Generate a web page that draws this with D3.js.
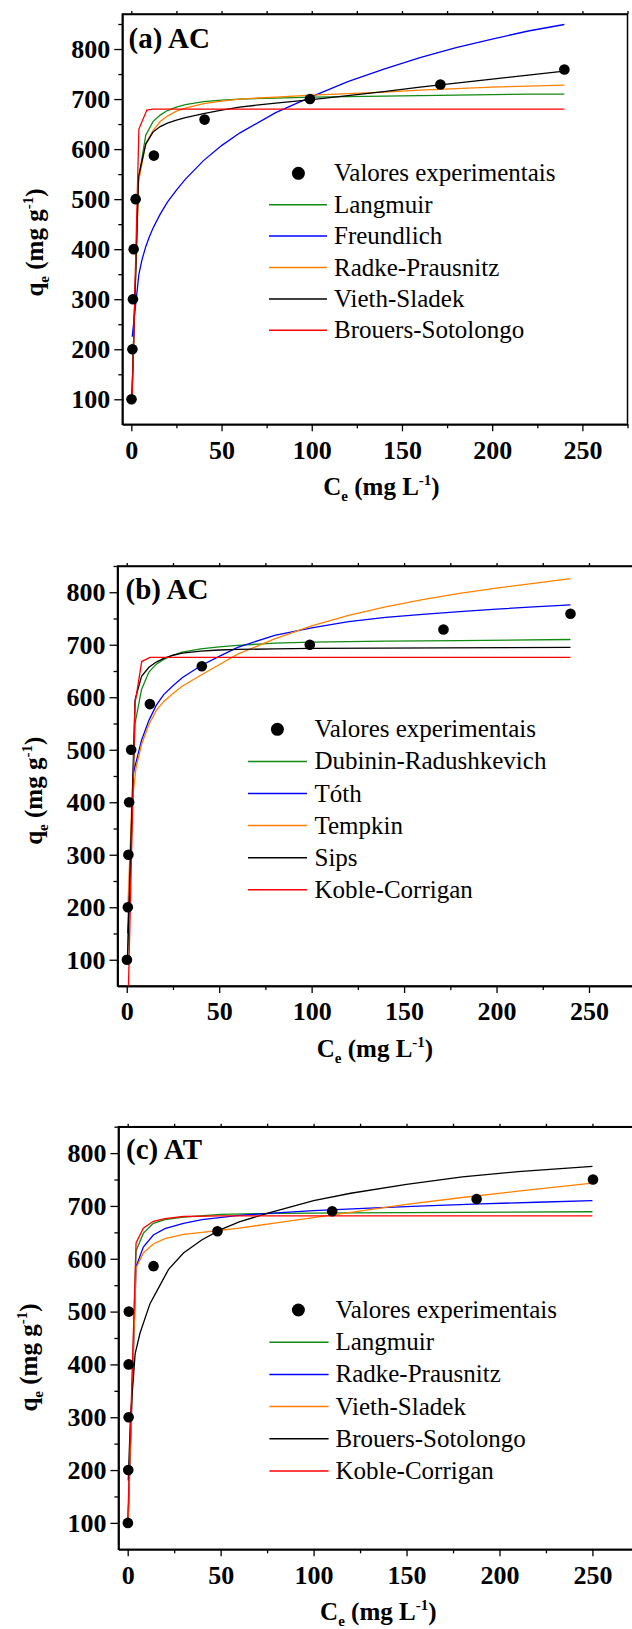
<!DOCTYPE html>
<html>
<head>
<meta charset="utf-8">
<title>Isotermas de adsorção</title>
<script src="https://d3js.org/d3.v7.min.js"></script>
<style>
  body { margin: 0; background: #fff; }
  svg { display: block; }
</style>
</head>
<body>
<svg id="chart" width="632" height="1629"></svg>
<script>
// ---- dados ----
var xTicks = [0, 50, 100, 150, 200, 250];
var xMinor = [25, 75, 125, 175, 225, 275];
var yTicks = [100, 200, 300, 400, 500, 600, 700, 800];
var yMinor = [150, 250, 350, 450, 550, 650, 750, 850];

// pontos experimentais
var expAC_Ce = [0.1, 0.6, 0.9, 1.3, 2.4, 12.5, 40.6, 99, 171.3, 240];
var expAC_qe = [100, 200, 300, 400, 500, 587, 659, 700, 729, 759];
var expAT_Ce = [0.1, 0.3, 0.5, 0.5, 0.6, 13.9, 48.3, 110, 187.7, 250.3];
var expAT_qe = [100, 200, 300, 400, 500, 586, 652, 690, 713, 750];

// (a) AC
var langmuirA = [[0.3,100],[4,540],[8,628],[12,655],[16,668],[20,677],[25,684],[30,689],[40,695],[50,698],[60,700],[80,702],[100,704],[120,705],[140,706],[160,707],[180,708],[200,709],[220,710],[240,710]];
var freundlichA = [[0.5,225],[4.2,350],[6,380],[8,405],[10,425],[12,442],[16,470],[20,494],[25,518],[30,540],[40,577],[50,607],[60,632],[80,673],[100,705],[120,735],[140,760],[160,783],[180,803],[200,820],[220,836],[240,849]];
var radkeA = [[0.3,100],[4,535],[8,611],[12,637],[16,655],[20,666],[25,676],[30,682],[40,691],[50,696],[60,700],[80,704],[100,708],[120,711],[140,714],[160,718],[180,721],[200,724],[220,726],[240,728]];
var viethA = [[0.3,100],[4,545],[8,610],[12,634],[16,645],[20,652],[25,658],[30,663],[40,671],[50,678],[60,684],[80,692],[100,699],[120,707],[140,715],[160,724],[180,732],[200,740],[220,748],[240,756]];
var brouersA = [[0.5,105],[4.2,640],[8.6,678],[12,680],[240,680]];

// (b) AC
var dubininB = [[0.4,100],[4.5,550],[8,615],[12,648],[16,663],[20,672],[25,680],[30,686],[40,692],[50,696],[60,699],[80,703],[100,705],[140,707],[180,708],[240,710]];
var tothB = [[0.5,150],[3.6,456],[8,518],[12,556],[16,585],[20,605],[25,622],[30,637],[40,660],[50,678],[60,695],[80,718],[100,732],[120,744],[140,752],[160,758],[180,763],[200,768],[220,772],[240,776]];
var tempkinB = [[0.6,200],[2.7,393],[5,465],[8,510],[12,548],[16,575],[20,592],[25,607],[30,621],[40,642],[50,662],[60,682],[80,711],[100,736],[120,756],[140,772],[160,786],[180,798],[200,808],[220,817],[240,826]];
var sipsB = [[0.4,100],[4.5,595],[8,640],[12,657],[16,667],[20,674],[25,680],[30,684],[40,688],[50,690],[60,691],[80,692],[100,693],[240,695]];
var kobleB = [[0.6,0],[4.5,589],[8.1,668],[12.6,676],[240,676]];

// (c) AT
var langmuirC = [[0.2,100],[4.5,615],[8.4,648],[13.8,667],[20,674],[30,679],[50,684],[80,686],[120,687],[180,688],[250,689]];
var radkeC = [[0.2,100],[4.5,585],[8.4,622],[13.8,645],[20,657],[30,667],[40,674],[60,682],[80,687],[100,691],[130,696],[160,700],[190,704],[220,707],[250,710]];
var viethC = [[0.2,100],[4.5,582],[8.4,611],[13.8,628],[20,638],[30,646],[40,650],[50,654],[60,658],[80,668],[100,678],[120,688],[150,703],[180,716],[210,728],[250,743]];
var brouersC = [[0.3,180],[1.5,300],[4,420],[6.6,459],[12,515],[17.4,550],[22,580],[30,611],[40,636],[50,655],[60,670],[75,686],[100,710],[120,724],[150,741],[180,755],[210,765],[250,775]];
var kobleC = [[0,100],[4.5,630],[8.4,658],[13.8,671],[20,676],[30,680],[50,681],[250,681]];

var VERDE = "#108a10", AZUL = "#0000ff", LARANJA = "#ff8000", PRETO = "#000000", VERMELHO = "#ff0000";
var FONTE = "'Liberation Serif', 'Times New Roman', serif";

var panels = [
  { title: "(a) AC", box: {l:122.3, r:627.5, t:14, b:424.3}, yDom: [50, 870],
    ce: expAC_Ce, qe: expAC_qe,
    curves: [
      {name: "Langmuir", color: VERDE, data: langmuirA},
      {name: "Freundlich", color: AZUL, data: freundlichA},
      {name: "Radke-Prausnitz", color: LARANJA, data: radkeA},
      {name: "Vieth-Sladek", color: PRETO, data: viethA},
      {name: "Brouers-Sotolongo", color: VERMELHO, data: brouersA}],
    leg: {mx:298.4, my:173.3, tx:334, l0:269, l1:327, dy:31.4},
    tpos: [128.5, 48.3], ylab: [43.3, 242.5], xlab: [381.5, 495] },
  { title: "(b) AC", box: {l:117.5, r:635.2, t:566, b:986}, yDom: [50, 850],
    ce: expAC_Ce, qe: expAC_qe,
    curves: [
      {name: "Dubinin-Radushkevich", color: VERDE, data: dubininB},
      {name: "Tóth", color: AZUL, data: tothB},
      {name: "Tempkin", color: LARANJA, data: tempkinB},
      {name: "Sips", color: PRETO, data: sipsB},
      {name: "Koble-Corrigan", color: VERMELHO, data: kobleB}],
    leg: {mx:277.4, my:729.3, tx:314.5, l0:248, l1:307, dy:32.1},
    tpos: [125.5, 599.3], ylab: [41.7, 790.8], xlab: [375, 1057] },
  { title: "(c) AT", box: {l:118.4, r:638.9, t:1126.7, b:1549.3}, yDom: [50, 850],
    ce: expAT_Ce, qe: expAT_qe,
    curves: [
      {name: "Langmuir", color: VERDE, data: langmuirC},
      {name: "Radke-Prausnitz", color: AZUL, data: radkeC},
      {name: "Vieth-Sladek", color: LARANJA, data: viethC},
      {name: "Brouers-Sotolongo", color: PRETO, data: brouersC},
      {name: "Koble-Corrigan", color: VERMELHO, data: kobleC}],
    leg: {mx:298.4, my:1310, tx:335.5, l0:269.4, l1:328.6, dy:32.2},
    tpos: [126, 1159.3], ylab: [36.7, 1357.5], xlab: [378.3, 1620] }
];

var svg = d3.select("#chart").style("font-family", FONTE);

panels.forEach(function (p, i) {
  var b = p.box;
  var x = d3.scaleLinear().domain([-5, 275]).range([b.l, b.r]);
  var y = d3.scaleLinear().domain(p.yDom).range([b.b, b.t]);
  var g = svg.append("g");

  var clipId = "clip" + i;
  g.append("clipPath").attr("id", clipId)
    .append("rect").attr("x", b.l).attr("y", b.t).attr("width", b.r - b.l).attr("height", b.b - b.t);

  // moldura
  g.append("rect").attr("x", b.l).attr("y", b.t).attr("width", b.r - b.l).attr("height", b.b - b.t)
    .attr("fill", "none").attr("stroke", "#000").attr("stroke-width", 1.5);

  // eixos
  var ax = g.append("g").attr("transform", "translate(0," + b.b + ")")
    .call(d3.axisBottom(x).tickValues(xTicks).tickSize(7).tickPadding(9).tickSizeOuter(0));
  g.append("g").attr("transform", "translate(0," + b.b + ")")
    .call(d3.axisBottom(x).tickValues(xMinor).tickSize(4).tickFormat("").tickSizeOuter(0));
  g.append("g").attr("transform", "translate(0," + b.t + ")")
    .call(d3.axisTop(x).tickValues(xTicks.concat(xMinor)).tickSize(3).tickFormat("").tickSizeOuter(0));
  var ay = g.append("g").attr("transform", "translate(" + b.l + ",0)")
    .call(d3.axisLeft(y).tickValues(yTicks).tickSize(8).tickPadding(4).tickSizeOuter(0));
  g.append("g").attr("transform", "translate(" + b.l + ",0)")
    .call(d3.axisLeft(y).tickValues(yMinor.filter(function (v) { return v <= p.yDom[1]; }))
      .tickSize(4).tickFormat("").tickSizeOuter(0));
  g.selectAll(".domain").attr("stroke-width", 1.5);
  g.selectAll(".tick line").attr("stroke-width", 1.3);
  [ax, ay].forEach(function (a) {
    a.selectAll("text").style("font-family", FONTE).style("font-size", "26px")
      .style("font-weight", "bold").attr("fill", "#000");
  });

  // curvas
  var line = d3.line().x(function (d) { return x(d[0]); }).y(function (d) { return y(d[1]); });
  var cg = g.append("g").attr("clip-path", "url(#" + clipId + ")");
  p.curves.forEach(function (c) {
    cg.append("path").attr("d", line(c.data)).attr("fill", "none")
      .attr("stroke", c.color).attr("stroke-width", 1.3);
  });

  // pontos experimentais
  g.append("g").selectAll("circle").data(p.ce).join("circle")
    .attr("cx", function (d) { return x(d); })
    .attr("cy", function (d, k) { return y(p.qe[k]); })
    .attr("r", 5.3).attr("fill", "#000");

  // legenda
  var L = p.leg;
  var lg = g.append("g").style("font-size", "25px");
  lg.append("circle").attr("cx", L.mx).attr("cy", L.my).attr("r", 6.5).attr("fill", "#000");
  lg.append("text").attr("x", L.tx).attr("y", L.my + 8).text("Valores experimentais");
  p.curves.forEach(function (c, k) {
    var yy = L.my + L.dy * (k + 1);
    lg.append("line").attr("x1", L.l0).attr("x2", L.l1).attr("y1", yy).attr("y2", yy)
      .attr("stroke", c.color).attr("stroke-width", 1.5);
    lg.append("text").attr("x", L.tx).attr("y", yy + 8).text(c.name);
  });

  // título do painel
  g.append("text").attr("x", p.tpos[0]).attr("y", p.tpos[1])
    .style("font-size", "29px").style("font-weight", "bold").text(p.title);

  // título eixo x
  var tx = g.append("text").attr("x", p.xlab[0]).attr("y", p.xlab[1])
    .attr("text-anchor", "middle").style("font-size", "25px").style("font-weight", "bold");
  tx.append("tspan").text("C");
  tx.append("tspan").attr("dy", 6).style("font-size", "15px").text("e");
  tx.append("tspan").attr("dy", -6).text(" (mg L");
  tx.append("tspan").attr("dy", -10).style("font-size", "15px").text("-1");
  tx.append("tspan").attr("dy", 10).text(")");

  // título eixo y
  var ty = g.append("text")
    .attr("transform", "translate(" + p.ylab[0] + "," + p.ylab[1] + ") rotate(-90)")
    .attr("text-anchor", "middle").style("font-size", "25px").style("font-weight", "bold");
  ty.append("tspan").text("q");
  ty.append("tspan").attr("dy", 6).style("font-size", "15px").text("e");
  ty.append("tspan").attr("dy", -6).text(" (mg g");
  ty.append("tspan").attr("dy", -10).style("font-size", "15px").text("-1");
  ty.append("tspan").attr("dy", 10).text(")");
});
</script>
</body>
</html>
